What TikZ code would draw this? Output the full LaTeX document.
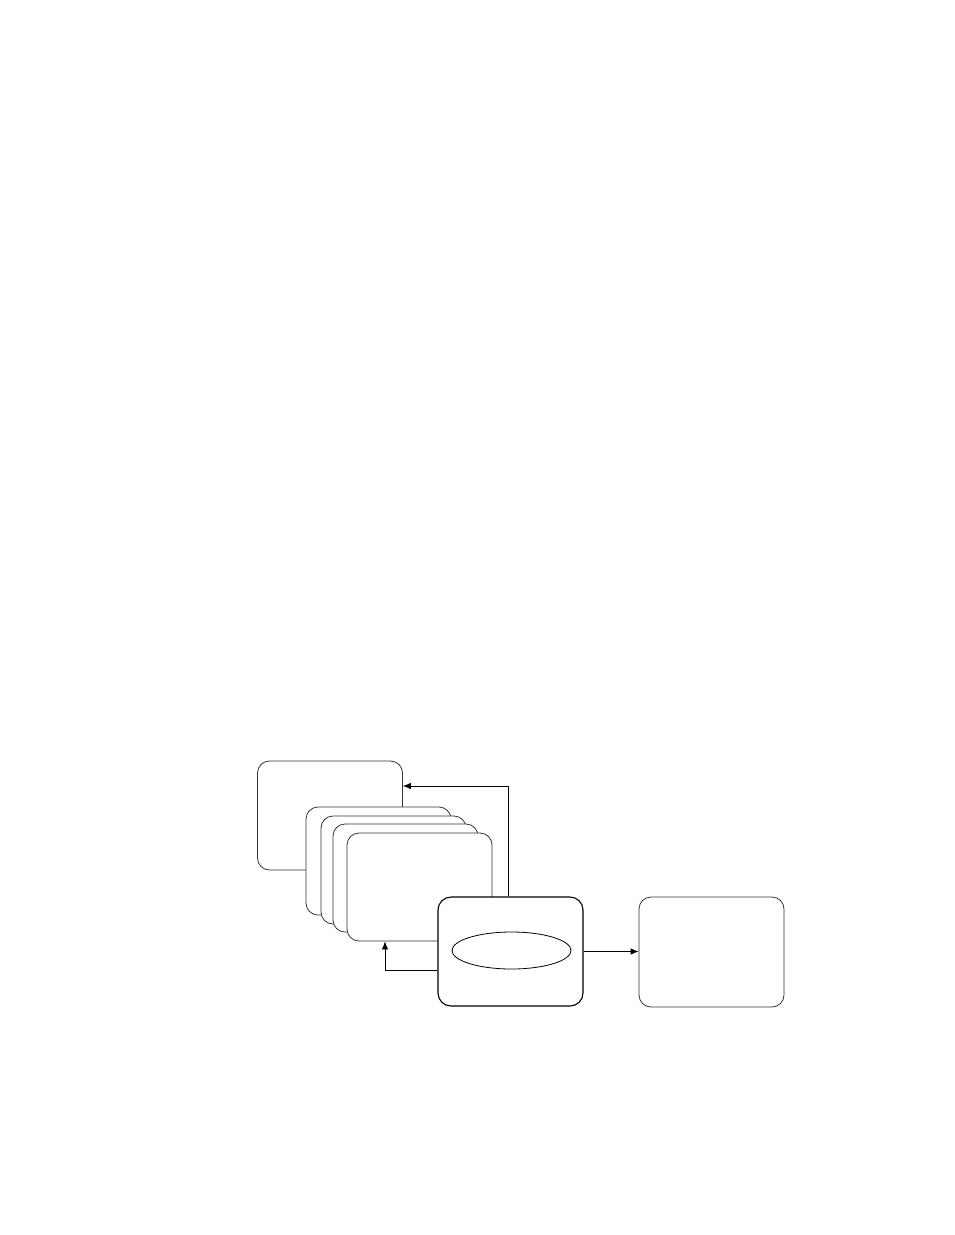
\documentclass[tikz,border=0pt]{standalone}
\usetikzlibrary{arrows.meta,shapes.geometric}
\begin{document}
\begin{tikzpicture}[x=1pt,y=-1pt,
  box/.style={draw=black!80,line width=0.8pt,fill=white,rounded corners=12pt,inner sep=0pt,minimum width=145pt,minimum height=108pt},
  mainbox/.style={draw=black,line width=1.1pt,fill=white,rounded corners=13pt,inner sep=0pt,minimum width=145pt,minimum height=109pt},
  oval/.style={draw=black,line width=0.8pt,ellipse,inner sep=0pt,minimum width=119pt,minimum height=37pt},
  arr/.style={draw=black,line width=0.8pt,-{Latex[length=8pt,width=6.5pt]}}]
\useasboundingbox (0,0) rectangle (954,1235);
\node[box,minimum height=109pt] (A) at (330,815.5) {};
\node[box] (S1) at (378.5,861) {};
\node[box] (S2) at (393.5,870) {};
\node[box] (S3) at (405.5,878) {};
\node[box] (S4) at (419.5,887) {};
\node[mainbox] (C) at (510.5,951.5) {};
\node[oval] (E) at (511.5,950.5) {};
\node[box,minimum height=110pt] (D) at (711.5,952) {};
\coordinate (p1) at (508,786);
\coordinate (p2) at (385,970);
\draw[arr] (C.north -| p1) -- (p1) -- (A.east |- p1);
\draw[arr] (C.west |- p2) -- (p2) -- (S4.south -| p2);
\draw[arr] (C.east) -- (D.west |- C.east);
\end{tikzpicture}
\end{document}
